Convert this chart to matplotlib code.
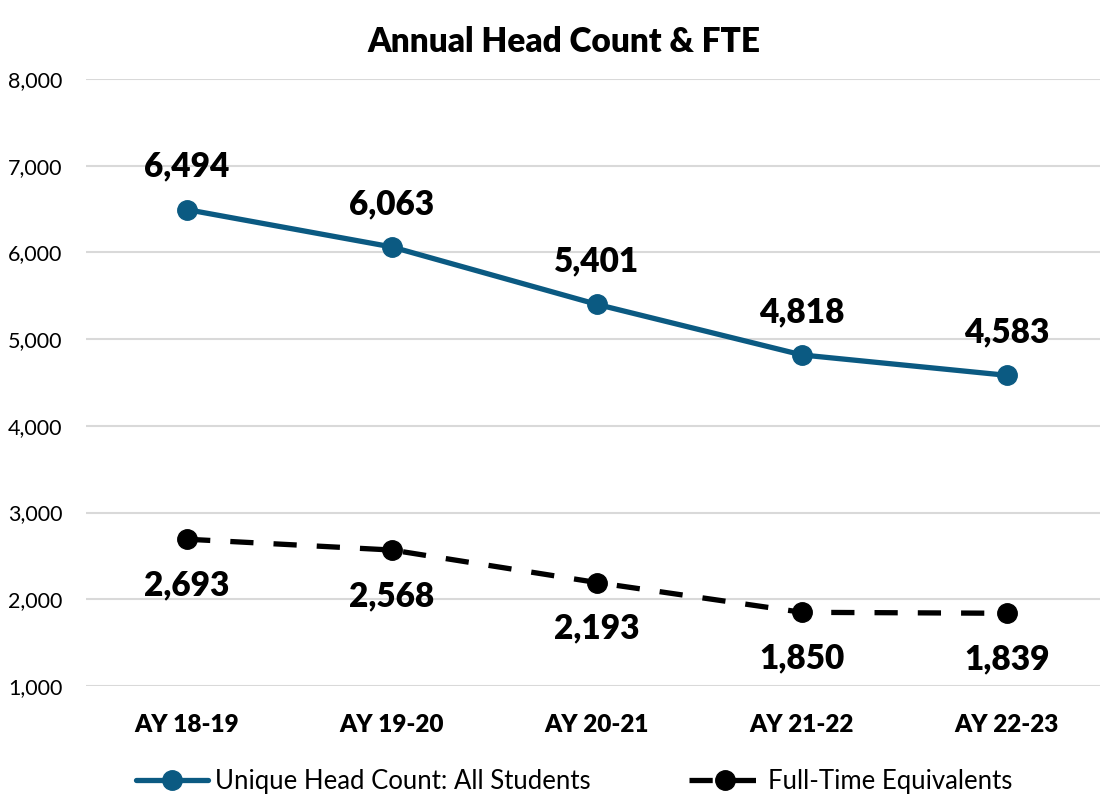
import matplotlib.pyplot as plt
from matplotlib.ticker import FuncFormatter

years = ["AY 18-19", "AY 19-20", "AY 20-21", "AY 21-22", "AY 22-23"]
head_count = [6494, 6063, 5401, 4818, 4583]
fte = [2693, 2568, 2193, 1850, 1839]
y_ticks = [1000, 2000, 3000, 4000, 5000, 6000, 7000, 8000]

plt.rcParams['font.family'] = ['Lato', 'DejaVu Sans']

blue = '#0b5a82'

fig = plt.figure(figsize=(11, 7.99), dpi=100)
ax = fig.add_axes([0.0782, 0.1414, 0.9218, 0.7597])

x = list(range(len(years)))
ax.plot(x, head_count, color=blue, lw=3.8, marker='o', ms=14,
        solid_capstyle='round', label="Unique Head Count: All Students", zorder=3)
ax.plot(x, fte, color='black', lw=3.8, marker='o', ms=14, dashes=(4.4, 3.8),
        dash_capstyle='butt', label="Full-Time Equivalents", zorder=3)

for xi, v in zip(x, head_count):
    ax.annotate(f"{v:,}", (xi, v), xytext=(0, 31), textcoords='offset points',
                ha='center', va='center', fontsize=24, fontweight='heavy')
for xi, v in zip(x, fte):
    ax.annotate(f"{v:,}", (xi, v), xytext=(0, -33), textcoords='offset points',
                ha='center', va='center', fontsize=24, fontweight='heavy')

ax.set_xlim(-0.493, 4.454)
ax.set_ylim(1000, 8000)
ax.set_yticks(y_ticks)
ax.yaxis.set_major_formatter(FuncFormatter(lambda v, p: f"{int(v):,}"))
ax.set_xticks(x)
ax.set_xticklabels(years, fontweight='heavy')
ax.tick_params(axis='y', length=0, labelsize=15.5, pad=17)
ax.tick_params(axis='x', length=0, labelsize=17.5, pad=20)
ax.grid(axis='y', color='#d9d9d9', lw=1.5)
ax.set_axisbelow(True)
for s in ax.spines.values():
    s.set_visible(False)

fig.suptitle("Annual Head Count & FTE", x=0.513, y=0.968, fontsize=24, fontweight='heavy')
fig.legend(loc='center', bbox_to_anchor=(0.522, 0.022), ncol=2, frameon=False,
           fontsize=18.5, handlelength=2.8, columnspacing=3.8, handletextpad=0.3)

fig.savefig("out.png", dpi=100)
